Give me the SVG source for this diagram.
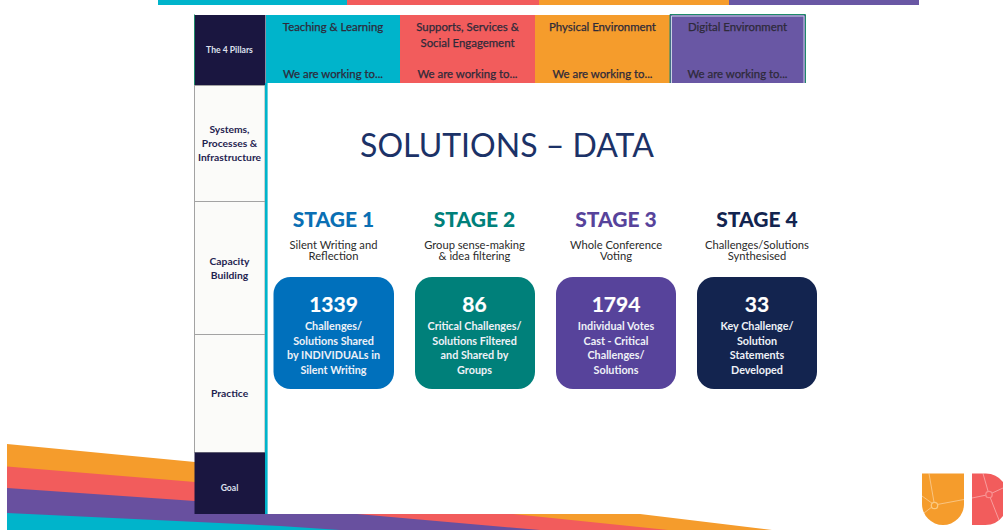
<svg xmlns="http://www.w3.org/2000/svg" width="1003" height="530" viewBox="0 0 1003 530">
<style>
text{font-family:"Lato","Open Sans","Liberation Sans",sans-serif;text-anchor:middle}
.hd{font-size:11.4px;fill:#2e2a3a;stroke:#2e2a3a;stroke-width:.25px}
.side{font-size:10.3px;font-weight:700;fill:#1f2350}
.inv{font-size:8.6px;font-weight:700;fill:#dfe0ee}
.cell{fill:#fbfbf9;stroke:#a3a3a3;stroke-width:1}
.st{font-size:21px;font-weight:900}
.sub{font-size:11.2px;fill:#2b2b2b}
.num{font-size:21px;font-weight:700;fill:#fff;stroke:#fff;stroke-width:.2px}
.cd{font-size:10.8px;font-weight:700;fill:#eef1f7}
.lg{stroke:#fff;stroke-opacity:.4;stroke-width:1;fill:none}
</style>
<g id="top-bar">
<rect x="158" y="0" width="189" height="5" fill="#00b4cb"/>
<rect x="347" y="0" width="192" height="5" fill="#f25c5c"/>
<rect x="539" y="0" width="190" height="5" fill="#f59c2c"/>
<rect x="729" y="0" width="190" height="5" fill="#6957a4"/>
</g>
<g id="bands">
<polygon points="7,444 195,462 640,514 772,530 7,530" fill="#f59c2c"/>
<polygon points="7,466.5 195,482 513,514 668,530 7,530" fill="#f25c5c"/>
<polygon points="7,488 195,501 357,514 540,530 7,530" fill="#68509f"/>
<polygon points="7,513 280,526 340,530 7,530" fill="#00b4cb"/>
</g>
<rect x="195" y="15" width="611" height="499" fill="#fff"/>
<g id="pillar-teaching"><rect x="266" y="15" width="134" height="68" fill="#00b4cb"/>
<text class="hd" x="333" y="31">Teaching &amp; Learning</text><text class="hd" x="333" y="78">We are working to...</text></g>
<g id="pillar-supports"><rect x="400" y="15" width="135" height="68" fill="#f25c5c"/>
<text class="hd" x="467.500" y="31">Supports, Services &amp;</text><text class="hd" x="467.500" y="47">Social Engagement</text><text class="hd" x="467.500" y="78">We are working to...</text></g>
<g id="pillar-physical"><rect x="535" y="15" width="135" height="68" fill="#f59c2c"/>
<text class="hd" x="602.500" y="31">Physical Environment</text><text class="hd" x="602.500" y="78">We are working to...</text></g>
<g id="pillar-digital"><rect x="670" y="15" width="135.500" height="68" fill="#6957a4"/>
<path d="M671.500 83V16H804V83" fill="none" stroke="#c9d2e6" stroke-width="1"/>
<path d="M670 83V14.500H805.500V83" fill="none" stroke="#1e8a68" stroke-width="1"/>
<text class="hd" x="737.500" y="31">Digital Environment</text><text class="hd" x="737.500" y="78">We are working to...</text></g>
<g id="row-pillars"><rect x="194.500" y="15" width="71" height="70" fill="#1a1640"/><line x1="194.500" y1="14.500" x2="194.500" y2="85" stroke="#1e8a68"/>
<text class="inv" x="229.500" y="53">The 4 Pillars</text></g>
<g id="row-systems"><rect class="cell" x="194.500" y="85.500" width="70.500" height="116"/>
<text class="side" x="229.500" y="133">Systems,</text><text class="side" x="229.500" y="147">Processes &amp;</text><text class="side" x="229.500" y="161">Infrastructure</text></g>
<g id="row-capacity"><rect class="cell" x="194.500" y="201.500" width="70.500" height="133"/>
<text class="side" x="229.500" y="265">Capacity</text><text class="side" x="229.500" y="279">Building</text></g>
<g id="row-practice"><rect class="cell" x="194.500" y="334.500" width="70.500" height="118"/>
<text class="side" x="229.500" y="397">Practice</text></g>
<g id="row-goal"><rect x="194.500" y="452.500" width="71" height="61.500" fill="#1a1640"/>
<text class="inv" x="229.500" y="491">Goal</text></g>
<rect id="divider" x="265" y="83" width="2.600" height="431" fill="#00b4cb"/>
<text x="507" y="156.500" font-size="32" fill="#1c3267">SOLUTIONS – DATA</text>
<g id="stage-1"><text class="st" x="333.500" y="227" fill="#0a6fb4">STAGE 1</text>
<text class="sub" x="333.500" y="248.500">Silent Writing and</text><text class="sub" x="333.500" y="260">Reflection</text>
<rect x="273.500" y="277" width="120.500" height="112" rx="17" fill="#0070bc"/>
<text class="num" x="333.500" y="312">1339</text>
<text class="cd" x="333.500" y="330">Challenges/</text><text class="cd" x="333.500" y="344.500">Solutions Shared</text><text class="cd" x="333.500" y="359">by INDIVIDUALs in</text><text class="cd" x="333.500" y="374">Silent Writing</text></g>
<g id="stage-2"><text class="st" x="474.500" y="227" fill="#00807a">STAGE 2</text>
<text class="sub" x="474.500" y="248.500">Group sense-making</text><text class="sub" x="474.500" y="260">&amp; idea filtering</text>
<rect x="415" y="277" width="120" height="112" rx="17" fill="#00807a"/>
<text class="num" x="474.500" y="312">86</text>
<text class="cd" x="474.500" y="330">Critical Challenges/</text><text class="cd" x="474.500" y="344.500">Solutions Filtered</text><text class="cd" x="474.500" y="359">and Shared by</text><text class="cd" x="474.500" y="374">Groups</text></g>
<g id="stage-3"><text class="st" x="616" y="227" fill="#57439b">STAGE 3</text>
<text class="sub" x="616" y="248.500">Whole Conference</text><text class="sub" x="616" y="260">Voting</text>
<rect x="556" y="277" width="120" height="112" rx="17" fill="#57439b"/>
<text class="num" x="616" y="312">1794</text>
<text class="cd" x="616" y="330">Individual Votes</text><text class="cd" x="616" y="344.500">Cast - Critical</text><text class="cd" x="616" y="359">Challenges/</text><text class="cd" x="616" y="374">Solutions</text></g>
<g id="stage-4"><text class="st" x="757" y="227" fill="#13244f">STAGE 4</text>
<text class="sub" x="757" y="248.500">Challenges/Solutions</text><text class="sub" x="757" y="260">Synthesised</text>
<rect x="697" y="277" width="120" height="112" rx="17" fill="#13244f"/>
<text class="num" x="757" y="312">33</text>
<text class="cd" x="757" y="330">Key Challenge/</text><text class="cd" x="757" y="344.500">Solution</text><text class="cd" x="757" y="359">Statements</text><text class="cd" x="757" y="374">Developed</text></g>
<g id="logo">
<path d="M922 473.500H964V504A21 21 0 0 1 922 504Z" fill="#f59c2c"/>
<path class="lg" d="M929 473.500L934.500 505M922 496L934.500 505M934.500 505L964 499.500M934.500 505L924 513"/>
<circle cx="934.500" cy="505.500" r="3.200" fill="#f59c2c" stroke="#fbc97f" stroke-width="1.300"/>
<path d="M972 473.500H985A22 22 0 0 1 1003 482V516A22 22 0 0 1 985 525H972Z" fill="#f25c5c"/>
<path class="lg" d="M983 473.500L989 494.500M972 498L989 494.500M989 494.500L1003 488M989 494.500L1001 525"/>
<circle cx="989" cy="494.500" r="3.200" fill="#f25c5c" stroke="#f88f8f" stroke-width="1.300"/>
</g>
</svg>
